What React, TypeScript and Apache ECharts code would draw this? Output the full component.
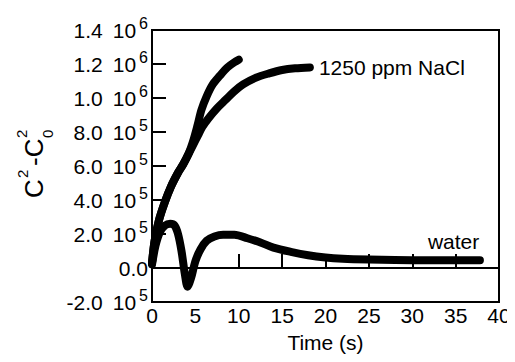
import React, { useEffect, useRef } from "react";
import * as echarts from "echarts";

// NaCl (1250 ppm) – upper branch (values in 1e5 units)
const naclUpperT = [0, 0.3, 0.8, 1.5, 2.2, 3.0, 3.6, 4.2, 4.7, 5.2, 5.7, 6.3, 7.0, 7.8, 8.7, 9.5, 10.0];
const naclUpperV = [0.3, 1.6, 2.8, 3.9, 4.8, 5.6, 6.1, 6.7, 7.4, 8.3, 9.3, 10.1, 10.8, 11.3, 11.8, 12.1, 12.25];
// NaCl (1250 ppm) – lower, longer branch
const naclLowerT = [0, 0.3, 0.8, 1.5, 2.2, 3.0, 3.6, 4.2, 4.7, 5.3, 5.8, 6.5, 7.5, 8.5, 9.5, 10.5, 12.0, 13.5, 15.0, 16.5, 18.2];
const naclLowerV = [0.3, 1.6, 2.8, 3.9, 4.8, 5.6, 6.1, 6.7, 7.2, 7.8, 8.3, 8.8, 9.4, 9.9, 10.4, 10.8, 11.2, 11.45, 11.65, 11.75, 11.8];
// water
const waterT = [0, 0.4, 0.9, 1.5, 2.1, 2.6, 3.0, 3.4, 3.8, 4.1, 4.5, 5.0, 5.6, 6.3, 7.2, 8.2, 9.5, 11, 12.5, 14, 16, 18, 20, 22, 25, 28, 32, 35, 37.8];
const waterV = [0.2, 1.3, 2.1, 2.5, 2.6, 2.5, 2.0, 1.0, -0.4, -1.1, -0.6, 0.4, 1.1, 1.6, 1.85, 1.95, 1.95, 1.75, 1.5, 1.2, 0.95, 0.75, 0.62, 0.55, 0.5, 0.47, 0.45, 0.45, 0.45];

const xTicks = { min: 0, max: 40, interval: 5 };
const yTicks = { min: -200000, max: 1400000, interval: 200000 };
const naclLabel = "1250 ppm NaCl";
const waterLabel = "water";
const xTitle = "Time (s)";

const FONT = "'Liberation Sans', Arial, Helvetica, sans-serif";

function pairs(t: number[], v: number[]) {
  return t.map((x, i) => [x, v[i] * 1e5]);
}

function yFmt(val: number) {
  if (Math.abs(val) < 1e-9) return "{n|0.0}";
  const e = Math.floor(Math.log10(Math.abs(val)) + 1e-9);
  const m = (val / Math.pow(10, e)).toFixed(1);
  return `{n|${m}}{g|10}{s|${e}}`;
}

export default function App() {
  const ref = useRef<HTMLDivElement>(null);
  useEffect(() => {
    if (!ref.current) return;
    const chart = echarts.init(ref.current, undefined, { renderer: "svg" });
    const lineBase = {
      type: "line" as const,
      showSymbol: false,
      smooth: 0.3,
      lineStyle: { color: "#000", width: 8, cap: "round" as const, join: "round" as const },
      silent: true,
    };
    const txt = (text: string, x: number, y: number, size: number) => ({
      type: "text",
      x,
      y,
      style: { text, fontSize: size, fontFamily: FONT, fill: "#000", verticalAlign: "middle" },
    });
    chart.setOption({
      animation: false,
      backgroundColor: "#fff",
      textStyle: { fontFamily: FONT },
      grid: { left: 152, right: 16, top: 30, bottom: 60, show: true, borderColor: "#000", borderWidth: 2, backgroundColor: "transparent" },
      xAxis: {
        type: "value",
        ...xTicks,
        name: xTitle,
        nameLocation: "middle",
        nameGap: 30,
        nameTextStyle: { color: "#000", fontSize: 21, fontFamily: FONT },
        axisLine: { show: true, lineStyle: { color: "#000", width: 2 } },
        axisTick: { show: true, inside: true, length: 14, lineStyle: { color: "#000", width: 2 } },
        axisLabel: { color: "#000", fontSize: 21, margin: 3, fontFamily: FONT },
        splitLine: { show: false },
      },
      yAxis: {
        type: "value",
        ...yTicks,
        axisLine: { show: true, lineStyle: { color: "#000", width: 2 } },
        axisTick: { show: true, inside: true, length: 14, lineStyle: { color: "#000", width: 2 } },
        axisLabel: {
          color: "#000",
          margin: 4,
          formatter: yFmt,
          rich: {
            n: { fontSize: 21, fontFamily: FONT, color: "#000" },
            g: { fontSize: 21, fontFamily: FONT, color: "#000", padding: [0, 0, 0, 10] },
            s: { fontSize: 16, fontFamily: FONT, color: "#000", padding: [0, 0, 14, 3] },
          },
        },
        splitLine: { show: false },
      },
      graphic: [
        {
          type: "group",
          x: 44,
          y: 198,
          rotation: Math.PI / 2,
          children: [
            txt("C", 0, -10, 26),
            txt("2", 20, -22, 15),
            txt("-C", 32, -10, 26),
            txt("0", 60, 3, 15),
            txt("2", 60, -23, 15),
          ],
        },
      ],
      series: [
        { ...lineBase, name: "nacl-upper", data: pairs(naclUpperT, naclUpperV) },
        {
          ...lineBase,
          name: "nacl-lower",
          data: pairs(naclLowerT, naclLowerV),
          endLabel: { show: true, formatter: naclLabel, color: "#000", fontSize: 21, fontFamily: FONT, distance: 9 },
        },
        {
          ...lineBase,
          name: "water",
          data: pairs(waterT, waterV),
          endLabel: { show: true, formatter: waterLabel, color: "#000", fontSize: 21, fontFamily: FONT, distance: 0, offset: [-52, -19] },
        },
      ],
    });
    return () => chart.dispose();
  }, []);
  return <div ref={ref} style={{ width: 515, height: 362, margin: -8 }} />;
}
